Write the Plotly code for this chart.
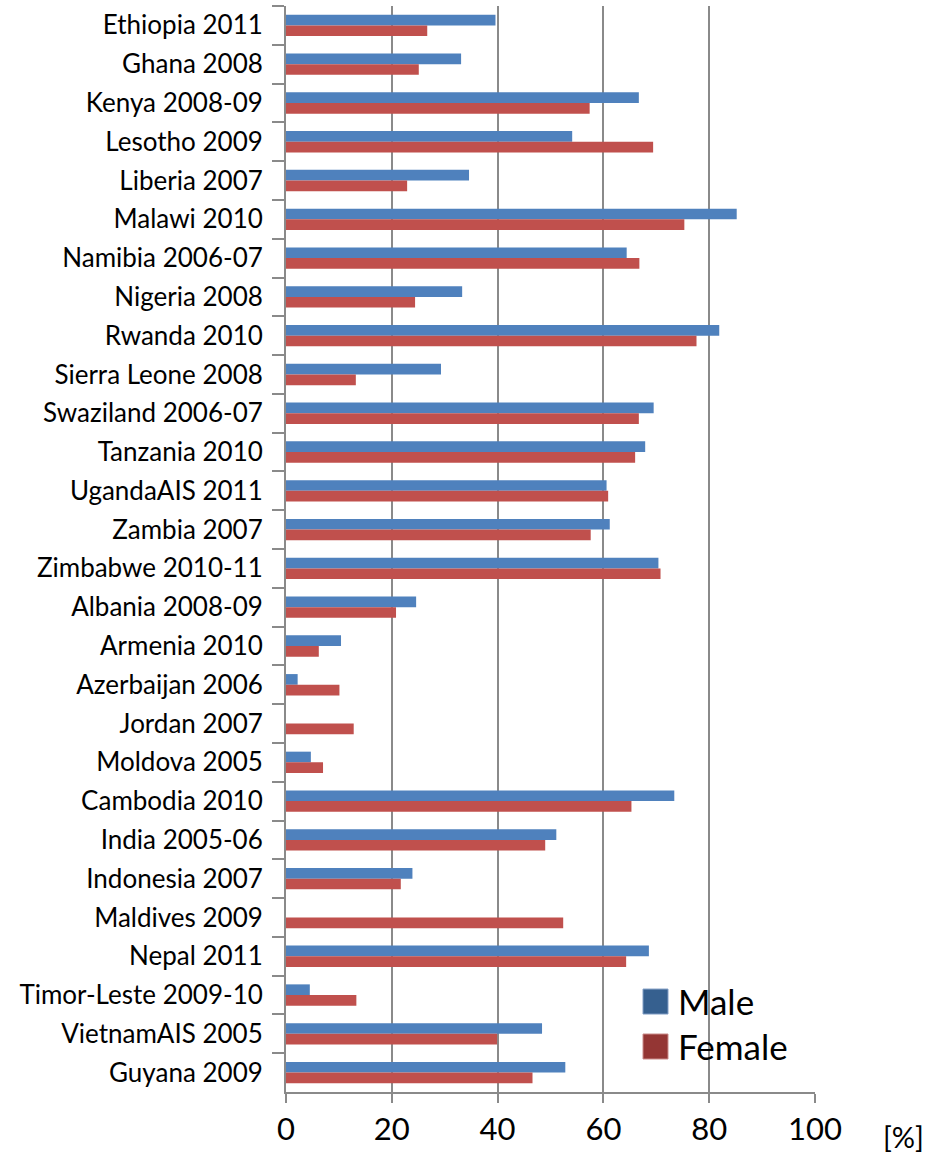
import plotly.graph_objects as go

# Survey label (country and survey year)
surveys = [
    "Ethiopia 2011", "Ghana 2008", "Kenya 2008-09", "Lesotho 2009", "Liberia 2007",
    "Malawi 2010", "Namibia 2006-07", "Nigeria 2008", "Rwanda 2010", "Sierra Leone 2008",
    "Swaziland 2006-07", "Tanzania 2010", "UgandaAIS 2011", "Zambia 2007",
    "Zimbabwe 2010-11", "Albania 2008-09", "Armenia 2010", "Azerbaijan 2006",
    "Jordan 2007", "Moldova 2005", "Cambodia 2010", "India 2005-06", "Indonesia 2007",
    "Maldives 2009", "Nepal 2011", "Timor-Leste 2009-10", "VietnamAIS 2005", "Guyana 2009",
]

male = [
    39.6, 33.1, 66.7, 54.1, 34.6,
    85.2, 64.4, 33.3, 81.9, 29.3,
    69.5, 67.9, 60.6, 61.2,
    70.4, 24.6, 10.4, 2.2,
    None, 4.7, 73.4, 51.1, 23.9,
    None, 68.6, 4.5, 48.4, 52.8,
]

female = [
    26.7, 25.1, 57.4, 69.4, 22.9,
    75.3, 66.8, 24.4, 77.6, 13.2,
    66.7, 66.0, 60.9, 57.6,
    70.8, 20.8, 6.2, 10.1,
    12.8, 7.0, 65.3, 49.0, 21.7,
    52.4, 64.3, 13.3, 39.9, 46.6,
]

x_ticks = [0, 20, 40, 60, 80, 100]

FONT = "Lato"
GRID = "#8a8a8a"

fig = go.Figure()

fig.add_trace(go.Bar(
    y=surveys, x=male, orientation="h", name="Male",
    marker=dict(color="#4F81BD", line=dict(width=0)),
    showlegend=False,
))
fig.add_trace(go.Bar(
    y=surveys, x=female, orientation="h", name="Female",
    marker=dict(color="#C0504D", line=dict(width=0)),
    showlegend=False,
))

fig.update_layout(
    width=933, height=1158,
    margin=dict(l=286, r=118, t=6, b=66),
    paper_bgcolor="white", plot_bgcolor="white",
    barmode="group", bargap=0.45, bargroupgap=0,
    font=dict(family=FONT, color="black"),
    showlegend=False,
)

fig.update_xaxes(
    range=[0, 100], tickvals=x_ticks, ticktext=[str(v) for v in x_ticks],
    showgrid=True, gridcolor=GRID, gridwidth=2,
    showline=True, linecolor=GRID, linewidth=2,
    ticks="outside", ticklen=9, tickcolor=GRID, tickwidth=2,
    tickfont=dict(size=31, family=FONT), zeroline=False,
)
fig.update_yaxes(
    autorange="reversed", type="category",
    showline=True, linecolor=GRID, linewidth=2,
    ticks="outside", tickson="boundaries", ticklen=12, tickcolor=GRID, tickwidth=2,
    ticklabelstandoff=16,
    tickfont=dict(size=26, family=FONT), showgrid=False,
)

# Legend box: swatches and names drawn in paper coordinates
legend_items = [
    ("Male", "#36608F", 0.0718, 0.0948, 0.0838),
    ("Female", "#943634", 0.0304, 0.0534, 0.0424),
]
for name, col, y0, y1, yc in legend_items:
    fig.add_shape(
        type="rect", xref="paper", yref="paper",
        x0=0.6749, x1=0.7221, y0=y0, y1=y1,
        fillcolor=col, line=dict(color="#7f9cc4" if name == "Male" else "#c98a88", width=1),
    )
    fig.add_annotation(
        text=name, xref="paper", yref="paper", x=0.737, y=yc,
        xanchor="left", yanchor="middle", showarrow=False,
        font=dict(size=35, family=FONT),
    )

fig.add_annotation(
    text="[%]", xref="paper", yref="paper", x=1.208, y=-0.041,
    xanchor="right", yanchor="middle", showarrow=False, borderpad=0,
    font=dict(size=29, family=FONT),
)

fig.write_html("out.html")
